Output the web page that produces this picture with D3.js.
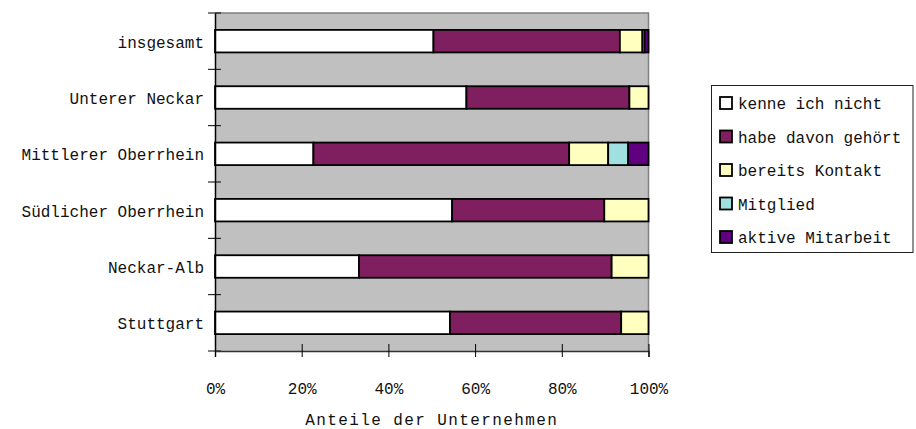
<!DOCTYPE html>
<html><head><meta charset="utf-8">
<script src="https://cdn.jsdelivr.net/npm/d3@7"></script>
<style>
html,body{margin:0;padding:0;background:#fff;}
text{font-family:"Liberation Mono","Courier New",monospace;fill:#111;}
</style></head>
<body><svg id="c" width="916" height="429"></svg>
<script>
const categories = ["insgesamt","Unterer Neckar","Mittlerer Oberrhein","Südlicher Oberrhein","Neckar-Alb","Stuttgart"];
const seriesNames = ["kenne ich nicht","habe davon gehört","bereits Kontakt","Mitglied","aktive Mitarbeit"];
const kenneIchNicht = [50.4, 58.0, 22.7, 54.7, 33.2, 54.2];
const habeDavonGehoert = [43.0, 37.6, 59.0, 35.1, 58.3, 39.5];
const bereitsKontakt = [5.2, 4.4, 9.0, 10.2, 8.5, 6.3];
const mitglied = [0.5, 0, 4.6, 0, 0, 0];
const aktiveMitarbeit = [0.9, 0, 4.7, 0, 0, 0];
const xTicks = [0, 0.2, 0.4, 0.6, 0.8, 1.0];
const axisTitle = "Anteile der Unternehmen";
const colors = ["#ffffff","#7f1f5f","#ffffc0","#a0e0e0","#600080"];

const svg = d3.select("#c");
const L = 215, T = 13, W = 433.5, H = 338;
const x = d3.scaleLinear().domain([0,1]).range([L, L+W]);
const y = d3.scaleBand().domain(categories).range([T, T+H]).paddingInner(0.6).paddingOuter(0.3);

// plot background
svg.append("rect").attr("x", L).attr("y", T).attr("width", W).attr("height", H).attr("fill", "#c0c0c0");
svg.append("path").attr("d", `M${L},${T}H${L+W}V${T+H}`).attr("fill","none").attr("stroke","#808080").attr("stroke-width",1.5);

// data table & stack
const values = [kenneIchNicht, habeDavonGehoert, bereitsKontakt, mitglied, aktiveMitarbeit];
const table = categories.map((c,i) => {
  const o = {cat: c};
  seriesNames.forEach((s,j) => o[s] = values[j][i] / 100);
  return o;
});
const stack = d3.stack().keys(seriesNames)(table);

stack.forEach((layer, j) => {
  svg.append("g").selectAll("rect").data(layer.filter(d => d[1]-d[0] > 0)).join("rect")
    .attr("x", d => x(d[0]))
    .attr("y", d => y(d.data.cat))
    .attr("width", d => x(d[1]) - x(d[0]))
    .attr("height", y.bandwidth())
    .attr("fill", colors[j])
    .attr("stroke", "#000").attr("stroke-width", 1.8);
});

// y axis
const ya = svg.append("g").attr("transform", `translate(${L},0)`)
  .call(d3.axisLeft(y).tickSize(0).tickPadding(11));
ya.select(".domain").attr("stroke","#000").attr("stroke-width",1.5);
ya.selectAll("text").attr("font-size", 16).attr("font-family", "Liberation Mono").attr("fill","#111").attr("dy","0.4em");
const step = y.step();
for (let i = 0; i <= categories.length; i++) {
  const yy = T + i*step;
  svg.append("line").attr("x1", L-7).attr("x2", L+6).attr("y1", yy).attr("y2", yy)
    .attr("stroke","#000").attr("stroke-width",1);
}

// x axis
const xa = svg.append("g").attr("transform", `translate(0,${T+H})`)
  .call(d3.axisBottom(x).tickValues(xTicks).tickFormat(d3.format(".0%")).tickSize(6).tickPadding(26));
xa.select(".domain").attr("stroke","#333").attr("stroke-width",1.5);
xa.selectAll(".tick line").attr("y1",-7).attr("y2",6).attr("stroke","#000");
xa.selectAll("text").attr("font-size", 16).attr("font-family", "Liberation Mono").attr("fill","#111");

svg.append("text").attr("x", L + W/2).attr("y", 425).attr("text-anchor","middle")
  .attr("font-size", 16).attr("letter-spacing", 1.4).text(axisTitle);

// legend
const lg = svg.append("g");
lg.append("rect").attr("x", 711.5).attr("y", 85.5).attr("width", 201.5).attr("height", 167)
  .attr("fill","#fff").attr("stroke","#222").attr("stroke-width",1);
const clip = svg.append("clipPath").attr("id","lc").append("rect")
  .attr("x", 712).attr("y", 86).attr("width", 200.5).attr("height", 166);
const items = lg.append("g").attr("clip-path","url(#lc)").selectAll("g").data(seriesNames).join("g")
  .attr("transform", (d,i) => `translate(720,${103 + i*33.5})`);
items.append("rect").attr("x",0).attr("y",-6).attr("width",12).attr("height",12)
  .attr("fill",(d,i)=>colors[i]).attr("stroke","#000").attr("stroke-width",1.8);
items.append("text").attr("x",18).attr("y",0).attr("dy","0.38em").attr("font-size",16).text(d=>d);
</script></body></html>
